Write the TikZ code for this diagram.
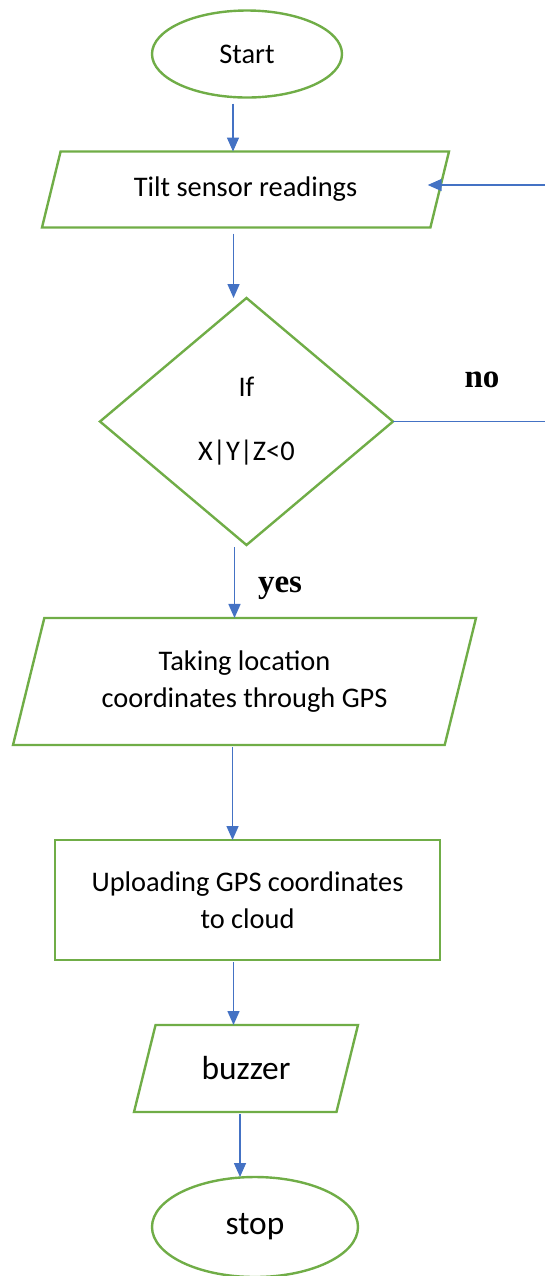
\documentclass[tikz,border=0pt]{standalone}
\usepackage{fontspec}
\setmainfont{Carlito}
\newfontfamily\labelfont{Liberation Serif}
\usetikzlibrary{shapes.geometric,arrows.meta}

\definecolor{boxgreen}{RGB}{112,173,71}
\definecolor{flowblue}{RGB}{68,114,196}

\tikzset{
  box/.style={draw=boxgreen,line width=1.2pt,outer sep=0pt,inner sep=2pt,align=center,
    font=\fontsize{14.2}{18.5}\selectfont},
  terminal/.style={box,ellipse},
  io/.style={box,trapezium,trapezium left angle=76,trapezium right angle=104,
    trapezium stretches body},
  process/.style={box,rectangle},
  decision/.style={box,diamond},
  flow/.style={->,flowblue,line width=0.75pt},
  answer/.style={font=\labelfont\bfseries\fontsize{16.5}{20}\selectfont}
}

\begin{document}
\begin{tikzpicture}[x=0.5pt,y=-0.5pt,>={Triangle[length=7pt,width=6pt]}]
\useasboundingbox (0,0) rectangle (545,1276);

% Start and input
\node[terminal,minimum width=95pt,minimum height=43.5pt] (start) at (247,54) {Start};
\node[io,inner ysep=12.5pt,minimum width=203.5pt,minimum height=38pt] (tilt) at (245.5,189.5) {Tilt sensor readings};

% Decision
\node[decision,minimum width=146.5pt,minimum height=123.5pt] (cond) at (246.5,421.5) {If\\[13.5pt]X|Y|Z<0};

% GPS steps
\node[io,inner ysep=16pt,minimum width=231.5pt,minimum height=63.5pt] (gps) at (244.5,681.5) {Taking location\\coordinates through GPS};
\node[process,minimum width=192.5pt,minimum height=60pt] (upload) at (247.5,900) {Uploading GPS coordinates\\to cloud};

% Alarm and end
\node[io,inner ysep=15.75pt,minimum width=112pt,minimum height=43.5pt,font=\fontsize{16.7}{20}\selectfont] (buzz) at (246,1068.5) {buzzer};
\node[terminal,minimum width=103pt,minimum height=50pt,font=\fontsize{16.7}{20}\selectfont] (stop) at (255,1227) {stop};

% Answers
\node[answer] (nolabel) at (482,380) {no};
\node[answer] (yeslabel) at (280,588) {yes};

% Loop back (leaves the picture on the right)
\coordinate (noout) at (545,423);
\coordinate (backin) at (545,185);
\draw[flowblue,line width=0.75pt] (cond.east) -- (cond.east -| noout);
\draw[flow,shorten >=-6pt] (backin) -- (backin -| tilt.east);

% Main flow
\draw[flow] ([xshift=-7pt,yshift=-3pt]start.south) -- ([xshift=-7pt]start.south |- tilt.north);
\draw[flow] ([xshift=-6pt,yshift=-3pt]tilt.south) -- ([xshift=-6pt]tilt.south |- cond.north);
\draw[flow] ([xshift=-6pt,yshift=-1pt]cond.south) -- ([xshift=-6pt]cond.south |- gps.north);
\draw[flow] ([xshift=-6pt,yshift=-1pt]gps.south) -- ([xshift=-6pt]gps.south |- upload.north);
\draw[flow] ([xshift=-7pt,yshift=-1pt]upload.south) -- ([xshift=-7pt]upload.south |- buzz.north);
\draw[flow] ([xshift=-3pt,yshift=-1pt]buzz.south) -- ([xshift=-3pt]buzz.south |- stop.north);

\end{tikzpicture}
\end{document}
